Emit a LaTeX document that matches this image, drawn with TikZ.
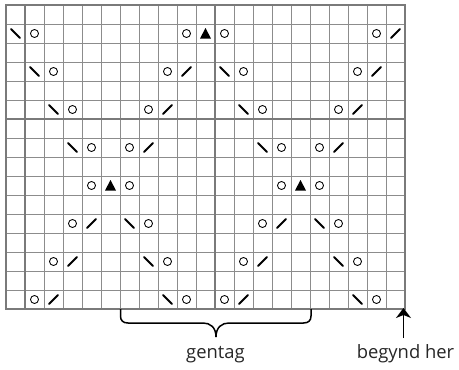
\documentclass[tikz,border=0pt]{standalone}
\usepackage{fontspec}
\setmainfont{Open Sans}
\usetikzlibrary{arrows.meta}
\tikzset{
  thin grid/.style={draw=gridgray,line width=0.9pt},
  thick grid/.style={draw=boldgray,line width=2.2pt},
  stitch/.style={line width=2pt,line cap=round,black},
  yarnover/.style={draw=black,line width=0.85pt},
  marker/.style={line width=1.5pt,black},
  caption/.style={font=\fontsize{18.4}{22}\selectfont,text=black!85,inner sep=0pt,anchor=base}
}
\definecolor{gridgray}{HTML}{8C8C8C}
\definecolor{boldgray}{HTML}{7A7A7A}
\newcommand{\kL}[2]{\draw[stitch] ({6+19*#1+5},{5+19*#2+5}) -- ({6+19*#1+14},{5+19*#2+14});}
\newcommand{\kR}[2]{\draw[stitch] ({6+19*#1+5},{5+19*#2+14}) -- ({6+19*#1+14},{5+19*#2+5});}
\newcommand{\kO}[2]{\draw[yarnover] ({6+19*#1+9.5},{5+19*#2+9.5}) circle[radius=4pt];}
\newcommand{\kT}[2]{\fill[black] ({6+19*#1+4},{5+19*#2+14.5}) -- ({6+19*#1+15},{5+19*#2+14.5}) -- ({6+19*#1+9.5},{5+19*#2+4}) -- cycle;}
\begin{document}
\begin{tikzpicture}[x=1pt,y=-1pt]
\useasboundingbox (0,0) rectangle (459,370);
\foreach \i in {1,...,20} \draw[thin grid] ({6+19*\i},5) -- ({6+19*\i},309);
\foreach \j in {1,...,15} \draw[thin grid] (6,{5+19*\j}) -- (405,{5+19*\j});
\draw[thick grid] (25,5) -- (25,309);
\draw[thick grid] (215,5) -- (215,309);
\draw[thick grid] (6,119) -- (405,119);
\draw[thick grid] (6,5) rectangle (405,309);
% rows
\kL{0}{1}\kO{1}{1}\kO{9}{1}\kT{10}{1}\kO{11}{1}\kO{19}{1}\kR{20}{1}
\kL{1}{3}\kO{2}{3}\kO{8}{3}\kR{9}{3}\kL{11}{3}\kO{12}{3}\kO{18}{3}\kR{19}{3}
\kL{2}{5}\kO{3}{5}\kO{7}{5}\kR{8}{5}\kL{12}{5}\kO{13}{5}\kO{17}{5}\kR{18}{5}
\kL{3}{7}\kO{4}{7}\kO{6}{7}\kR{7}{7}\kL{13}{7}\kO{14}{7}\kO{16}{7}\kR{17}{7}
\kO{4}{9}\kT{5}{9}\kO{6}{9}\kO{14}{9}\kT{15}{9}\kO{16}{9}
\kO{3}{11}\kR{4}{11}\kL{6}{11}\kO{7}{11}\kO{13}{11}\kR{14}{11}\kL{16}{11}\kO{17}{11}
\kO{2}{13}\kR{3}{13}\kL{7}{13}\kO{8}{13}\kO{12}{13}\kR{13}{13}\kL{17}{13}\kO{18}{13}
\kO{1}{15}\kR{2}{15}\kL{8}{15}\kO{9}{15}\kO{11}{15}\kR{12}{15}\kL{18}{15}\kO{19}{15}
% labels
\node[caption] (gentag) at (215.5,358) {gentag};
\node[caption] (begynd) at (405.5,358) {begynd her};
% brace
\coordinate (braceL) at (120.5,309);
\coordinate (braceR) at (311,309);
\coordinate (braceTip) at (216,337);
\draw[marker] (braceL) -- (120.5,316) .. controls (120.5,320.5) and (123,323) .. (128,323)
  -- (203,323) .. controls (210,323) and (216,327) .. (braceTip);
\draw[marker] (braceR) -- (311,316) .. controls (311,320.5) and (308.5,323) .. (303.5,323)
  -- (229,323) .. controls (222,323) and (216,327) .. (braceTip);
% arrow
\coordinate (arrowEnd) at (403.5,338);
\coordinate (arrowTip) at (403.5,308);
\draw[marker,line width=1.7pt,-{Stealth[length=10pt,width=15pt,inset=3pt]}] (arrowEnd) -- (arrowTip);
\end{tikzpicture}
\end{document}
